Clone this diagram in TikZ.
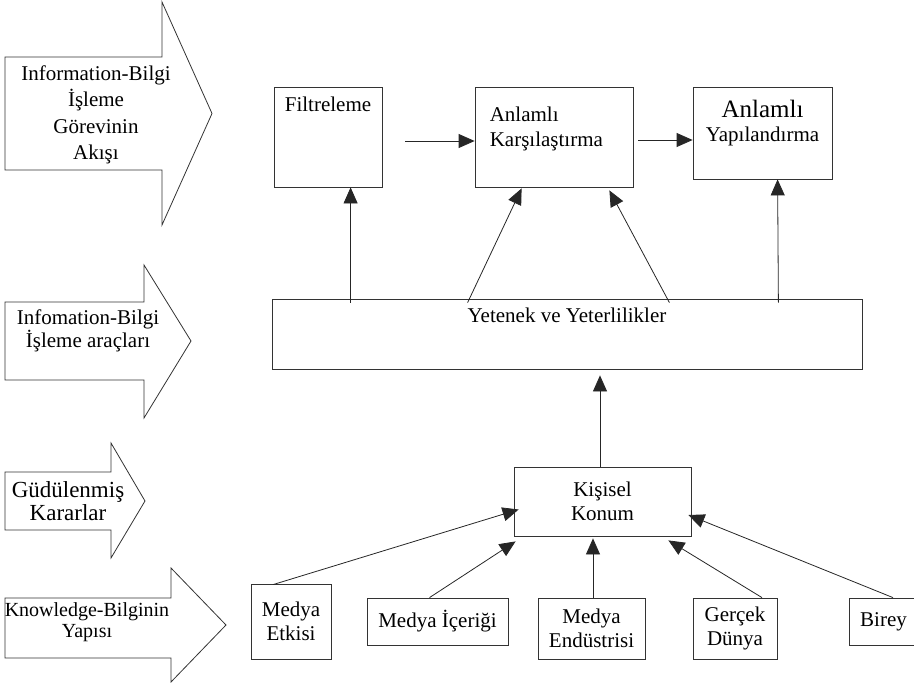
\documentclass[tikz,border=0pt]{standalone}
\usepackage{fontspec}
\setmainfont{Liberation Serif}
\usetikzlibrary{arrows.meta,positioning}
\tikzset{%
	flow box/.style={
		rectangle,
		draw=black!80,
		line width=0.8pt,
		align=center,
		inner sep=2pt
	},
	flow text/.style={
		align=center,
		inner sep=0pt
	},
	big arrow/.style={
		draw=black!80,
		line width=0.8pt
	},
	link/.style={
		draw=black!85,
		line width=0.8pt,
		-{Triangle[length=16pt,width=14pt]}
	},
}
\begin{document}
\begin{tikzpicture}[x=1pt, y=-1pt, font=\fontsize{21}{24}\selectfont]
		\useasboundingbox (0,0) rectangle (914,683);
		% Left arrows
		\foreach \ya/\yb/\xn/\yc/\yd/\xt/\ym in {57/170/162/2/225/212/113.5, 302/380/144/265/418/191/341, 472/530/111/443/558/145/501, 598/658/171/568/682/226/625}
		\draw[big arrow] (5,\ya) -- (\xn,\ya) -- (\xn,\yc) -- (\xt,\ym) -- (\xn,\yd) -- (\xn,\yb) -- (5,\yb) -- cycle;
		\node[flow text, font=\fontsize{21}{26.5}\selectfont] (lbl-flow) at (96,115) {Information-Bilgi\\İşleme\\Görevinin\\Akışı};
		\node[flow text, font=\fontsize{21}{21}\selectfont] (lbl-tools) at (88,331) {Infomation-Bilgi\\İşleme araçları};
		\node[flow text, font=\fontsize{23}{23}\selectfont] (lbl-motiv) at (68,501) {Güdülenmiş\\Kararlar};
		\node[flow text, font=\fontsize{20}{21}\selectfont] (lbl-know) at (87,622) {Knowledge-Bilginin\\Yapısı};
		
		% Task boxes
		\node[flow box, minimum width=108, minimum height=100] (filt) at (328,137) {};
		\node[flow text, below=10pt of filt.north] (filt-txt) {Filtreleme};
		\node[flow box, minimum width=158, minimum height=100] (kars) at (554,137) {};
		\node[flow text, align=left, anchor=north west, font=\fontsize{21}{25}\selectfont] (kars-txt) at ([shift={(15,20)}]kars.north west) {Anlamlı\\Karşılaştırma};
		\node[flow box, minimum width=139, minimum height=92] (yapi) at (762.5,133) {};
		\node[flow text, below=13pt of yapi.north] (yapi-txt) {{\fontsize{25}{28}\selectfont Anlamlı}\\Yapılandırma};
		
		% Tools and position
		\node[flow box, minimum width=590, minimum height=70] (yet) at (567,334) {};
		\node[flow text, below=9pt of yet.north] (yet-txt) {Yetenek ve Yeterlilikler};
		\node[flow box, minimum width=177, minimum height=69] (kis) at (602.5,501.5) {Kişisel\\Konum};
		
		% Knowledge boxes
		\foreach \nm/\cx/\cy/\bw/\bh/\txt in {etk/291/621.5/80/75/{Medya\\Etkisi}, ice/437.5/621.5/141/47/{Medya İçeriği}, endu/591.5/628.5/107/61/{Medya\\Endüstrisi}, ger/735/628.5/84/61/{Gerçek\\Dünya}, bir/883.5/621.5/69/47/{Birey}}
		\node[flow box, minimum width=\bw, minimum height=\bh] (\nm) at (\cx,\cy) {\txt};
		
		%Edges
		\draw[link] ([shift={(23,4)}]filt.east) -- ([shift={(0,4)}]kars.west);
		\draw[link] ([shift={(5,3)}]kars.east) -- ([shift={(0,7)}]yapi.west);
		\draw[link] ([shift={(79,4)}]yet.north west) -- ([shift={(77,0)}]filt.south west);
		\draw[link] ([shift={(196,4)}]yet.north west) -- ([shift={(47,1)}]kars.south west);
		\draw[link] ([shift={(-193,4)}]yet.north east) -- ([shift={(-24,3)}]kars.south east);
		\draw[link] ([shift={(-84,4)}]yet.north east) -- ([shift={(85,0)}]yapi.south west);
		\draw[link] ([shift={(-2.5,0)}]kis.north) -- ([shift={(33,6)}]yet.south);
		
		\draw[link] ([shift={(-18,1)}]etk.north) -- ([shift={(5,8)}]kis.west);
		\draw[link] ([shift={(-8,0)}]ice.north) -- ([shift={(2,5)}]kis.south west);
		\draw[link] ([shift={(1.5,0)}]endu.north) -- ([shift={(-9.5,2)}]kis.south);
		\draw[link] ([shift={(27,0)}]ger.north) -- ([shift={(-23,4)}]kis.south east);
		\draw[link] ([shift={(9.5,0)}]bir.north) -- ([shift={(-3,13.5)}]kis.east);
		
\end{tikzpicture}
\end{document}
